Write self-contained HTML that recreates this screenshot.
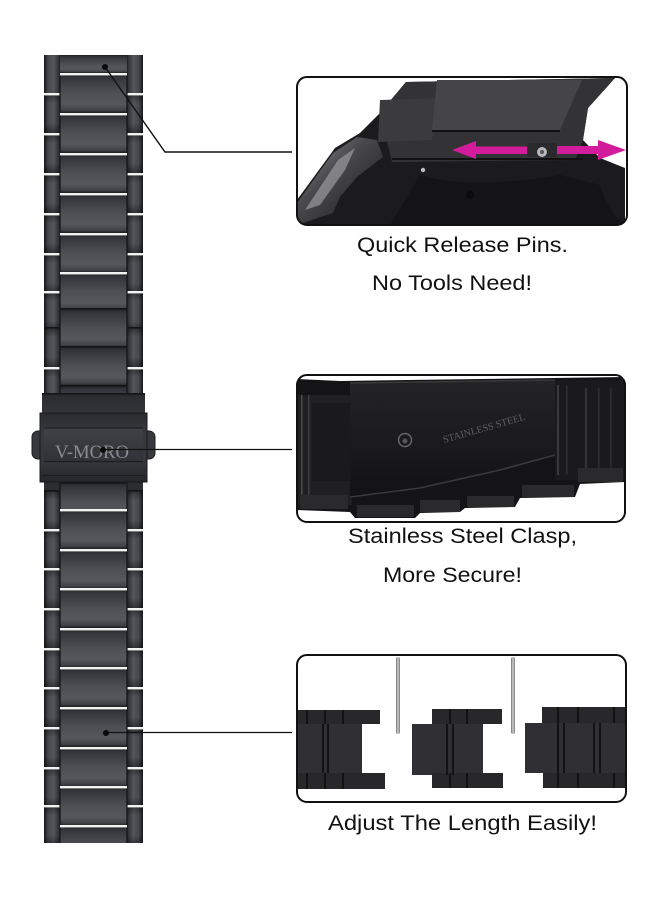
<!DOCTYPE html>
<html><head><meta charset="utf-8"><style>html,body{margin:0;padding:0;background:#fff}svg{display:block}</style></head>
<body>
<svg width="660" height="900" viewBox="0 0 660 900" xmlns="http://www.w3.org/2000/svg">
<defs>
<linearGradient id="cg" x1="0" y1="0" x2="0" y2="1">
 <stop offset="0" stop-color="#1f2024"/><stop offset="0.12" stop-color="#34353a"/>
 <stop offset="0.5" stop-color="#4e4f55"/><stop offset="0.78" stop-color="#56575d"/>
 <stop offset="0.93" stop-color="#404146"/><stop offset="1" stop-color="#1b1c1f"/>
</linearGradient>
<linearGradient id="sgL" x1="0" y1="0" x2="1" y2="0">
 <stop offset="0" stop-color="#17181b"/><stop offset="0.25" stop-color="#45464b"/>
 <stop offset="0.6" stop-color="#55565b"/><stop offset="0.9" stop-color="#34353a"/><stop offset="1" stop-color="#1c1d20"/>
</linearGradient>
<linearGradient id="sgR" x1="1" y1="0" x2="0" y2="0">
 <stop offset="0" stop-color="#17181b"/><stop offset="0.25" stop-color="#45464b"/>
 <stop offset="0.6" stop-color="#55565b"/><stop offset="0.9" stop-color="#34353a"/><stop offset="1" stop-color="#1c1d20"/>
</linearGradient>
<linearGradient id="vs" x1="0" y1="0" x2="0" y2="1">
 <stop offset="0" stop-color="#000" stop-opacity="0.45"/><stop offset="0.25" stop-color="#000" stop-opacity="0"/>
 <stop offset="0.75" stop-color="#000" stop-opacity="0"/><stop offset="1" stop-color="#000" stop-opacity="0.4"/>
</linearGradient>
<linearGradient id="clg" x1="0" y1="0" x2="0" y2="1">
 <stop offset="0" stop-color="#2a2b2f"/><stop offset="0.3" stop-color="#38393e"/>
 <stop offset="0.7" stop-color="#36373c"/><stop offset="1" stop-color="#25262a"/>
</linearGradient>
<linearGradient id="plg" x1="0" y1="0" x2="0" y2="1">
 <stop offset="0" stop-color="#404146"/><stop offset="1" stop-color="#313237"/>
</linearGradient>
<linearGradient id="pin" x1="0" y1="0" x2="1" y2="0">
 <stop offset="0" stop-color="#6e6e72"/><stop offset="0.5" stop-color="#d2d2d4"/><stop offset="1" stop-color="#747478"/>
</linearGradient>
<linearGradient id="crown" x1="0" y1="0" x2="1" y2="1">
 <stop offset="0" stop-color="#9a9a9e"/><stop offset="0.4" stop-color="#4a4a4e"/><stop offset="1" stop-color="#151517"/>
</linearGradient>
<linearGradient id="p2plate" x1="0" y1="0" x2="0" y2="1">
 <stop offset="0" stop-color="#242427"/><stop offset="1" stop-color="#121214"/>
</linearGradient>
<g id="cl"><rect x="60" y="0" width="67" height="40" fill="url(#cg)"/><rect x="59.4" y="0" width="1.3" height="40" fill="#18191c"/><rect x="126.3" y="0" width="1.3" height="40" fill="#18191c"/><rect x="60" y="0" width="67" height="2.4" fill="#f2f2f2"/></g>
<g id="cd"><rect x="60" y="0" width="67" height="40" fill="url(#cg)"/><rect x="59.4" y="0" width="1.3" height="40" fill="#18191c"/><rect x="126.3" y="0" width="1.3" height="40" fill="#18191c"/><rect x="60" y="0" width="67" height="1.6" fill="#141417"/></g>
<g id="sl">
 <rect x="44" y="0" width="16" height="40" fill="url(#sgL)"/><rect x="127" y="0" width="16" height="40" fill="url(#sgR)"/>
 <rect x="44" y="0" width="16" height="40" fill="url(#vs)"/><rect x="127" y="0" width="16" height="40" fill="url(#vs)"/>
 <rect x="44" y="0" width="16" height="2.4" fill="#f2f2f2"/><rect x="127" y="0" width="16" height="2.4" fill="#f2f2f2"/>
</g>
<g id="sd">
 <rect x="44" y="0" width="16" height="40" fill="url(#sgL)"/><rect x="127" y="0" width="16" height="40" fill="url(#sgR)"/>
 <rect x="44" y="0" width="16" height="40" fill="url(#vs)"/><rect x="127" y="0" width="16" height="40" fill="url(#vs)"/>
 <rect x="44" y="0" width="16" height="1.6" fill="#141417"/><rect x="127" y="0" width="16" height="1.6" fill="#141417"/>
</g>
<clipPath id="bandclip"><rect x="0" y="55" width="200" height="788"/></clipPath>
<clipPath id="p1c"><rect x="297" y="77" width="330" height="148" rx="10"/></clipPath>
<clipPath id="p2c"><rect x="297" y="375" width="328" height="147" rx="10"/></clipPath>
<clipPath id="p3c"><rect x="297" y="655" width="329" height="147" rx="10"/></clipPath>
</defs>

<rect width="660" height="900" fill="#fff"/>

<!-- BAND -->
<g clip-path="url(#bandclip)">
 <rect x="44" y="55" width="99" height="788" fill="#2c2d31"/>
 <rect x="44" y="55" width="16" height="38" fill="url(#sgL)"/>
 <rect x="127" y="55" width="16" height="38" fill="url(#sgR)"/>
 <rect x="60" y="55" width="67" height="18" fill="url(#cg)"/>
 <use href="#sl" y="93"/><use href="#sl" y="133"/><use href="#sl" y="173"/><use href="#sl" y="213"/><use href="#sl" y="253"/><use href="#sl" y="291"/>
 <use href="#sd" y="327"/><use href="#sl" y="367"/>
 <use href="#cl" y="73"/><use href="#cl" y="113"/><use href="#cl" y="153"/><use href="#cl" y="193"/><use href="#cl" y="233"/><use href="#cl" y="272"/>
 <use href="#cd" y="308"/><use href="#cd" y="346"/><use href="#cd" y="385"/>
 <use href="#sd" y="490"/>
 <use href="#sl" y="529"/><use href="#sl" y="568"/><use href="#sl" y="608"/><use href="#sl" y="648"/><use href="#sl" y="687"/><use href="#sl" y="727"/><use href="#sl" y="767"/><use href="#sl" y="805"/>
 <use href="#cd" y="482"/>
 <use href="#cl" y="509"/><use href="#cl" y="549"/><use href="#cl" y="588"/><use href="#cl" y="628"/><use href="#cl" y="667"/><use href="#cl" y="707"/><use href="#cl" y="747"/><use href="#cl" y="786"/><use href="#cl" y="825"/>
</g>

<!-- CLASP -->
<rect x="42" y="394" width="103" height="88" fill="url(#clg)"/>
<rect x="42" y="393" width="103" height="1.6" fill="#151518"/>
<rect x="32" y="431" width="13" height="28" rx="6" fill="#38393e" stroke="#1b1c1f" stroke-width="1"/>
<rect x="142" y="431" width="13" height="28" rx="6" fill="#38393e" stroke="#1b1c1f" stroke-width="1"/>
<rect x="40" y="413" width="107" height="69" fill="url(#clg)" stroke="#18191c" stroke-width="1"/>
<rect x="44" y="428" width="99" height="33" fill="url(#plg)"/>
<rect x="44" y="427.5" width="99" height="1.2" fill="#1c1d20"/>
<rect x="44" y="461" width="99" height="1.2" fill="#1c1d20"/>
<rect x="42" y="475" width="103" height="1" fill="#1c1d20"/>
<text x="55" y="458" font-family="Liberation Serif, serif" font-size="19" fill="#8b8c91" textLength="74" lengthAdjust="spacingAndGlyphs">V-MORO</text>

<!-- CONNECTORS -->
<polyline points="105,67 165,152 292,152" fill="none" stroke="#111" stroke-width="1.4"/>
<circle cx="105" cy="67" r="3" fill="#0a0a0a"/>
<line x1="103" y1="449.5" x2="292" y2="449.5" stroke="#111" stroke-width="1.3"/>
<circle cx="103" cy="450" r="3" fill="#0a0a0a"/>
<line x1="106" y1="732.5" x2="292" y2="732.5" stroke="#111" stroke-width="1.3"/>
<circle cx="106" cy="733" r="3" fill="#0a0a0a"/>

<!-- PANEL 1 -->
<g clip-path="url(#p1c)">
 <rect x="297" y="77" width="330" height="148" fill="#fff"/>
 <polygon points="406,82 615,78 588,108 583,140 600,158 625,168 625,225 297,225 297,200 335,148 360,133 380,113" fill="#1b1b1d"/>
 <polygon points="406,82 615,78 588,108 583,140 575,160 392,162 380,113" fill="#333336"/>
 <polygon points="380,100 437,98 432,140 378,142" fill="#3b3b3e"/>
 <polygon points="437,80 582,80 560,130 432,130" fill="#454548"/>
 <rect x="432" y="130" width="128" height="2" fill="#111"/>
 <rect x="392" y="158" width="190" height="2" fill="#111"/>
 <path d="M420 175 Q470 190 560 175 L600 185 Q610 215 625 225 L390 225 Z" fill="#141416"/>
 <circle cx="423" cy="170" r="2.2" fill="#bdbdbd"/>
 <circle cx="470" cy="195" r="4" fill="#0c0c0d"/>
 <polygon points="297,203 333,153 357,137 377,140 383,157 357,177 340,197 333,213 297,225" fill="url(#crown)"/>
 <polygon points="305,210 338,160 355,148 345,170 320,205" fill="#a9a9ad" opacity="0.6"/>
 <polygon points="452,150 476,141 476,146.5 527,146.5 527,154 476,154 476,159" fill="#d21c9b"/>
 <polygon points="557,146 598,146 598,140 626,150 598,160 598,154 557,154" fill="#d21c9b"/>
 <rect x="527" y="143" width="30" height="14" rx="3" fill="#2a2a2c"/>
 <circle cx="542" cy="152" r="5" fill="#b8b8ba"/>
 <circle cx="542" cy="152" r="2" fill="#555"/>
</g>
<rect x="297" y="77" width="330" height="148" rx="10" fill="none" stroke="#111" stroke-width="2"/>

<!-- PANEL 2 -->
<g clip-path="url(#p2c)">
 <rect x="297" y="375" width="328" height="147" fill="#fff"/>
 <polygon points="297,379 340,381 625,377 625,482 580,484 575,497 520,498 515,507 465,508 460,512 420,513 415,518 355,518 350,512 297,510" fill="#141416"/>
 <rect x="297" y="395" width="55" height="110" fill="#202023"/>
 <rect x="301" y="395" width="1.5" height="100" fill="#4a4a4e"/>
 <rect x="308" y="395" width="1.5" height="100" fill="#3e3e42"/>
 <rect x="312" y="403" width="38" height="78" fill="#1a1a1c"/>
 <polygon points="350,383 555,380 555,455 500,470 420,488 350,497" fill="url(#p2plate)"/>
 <polyline points="350,383 555,380" stroke="#3a3a3d" stroke-width="1.5" fill="none"/>
 <polyline points="350,497 420,488 500,470 555,455" stroke="#3a3a3d" stroke-width="1.5" fill="none"/>
 <rect x="555" y="380" width="70" height="100" fill="#1a1a1c"/>
 <rect x="557" y="385" width="2" height="90" fill="#3a3a3e"/>
 <rect x="566" y="385" width="1.5" height="90" fill="#2e2e32"/>
 <rect x="585" y="388" width="2" height="85" fill="#333337"/>
 <rect x="598" y="388" width="1.5" height="85" fill="#2e2e32"/>
 <rect x="610" y="388" width="1.5" height="85" fill="#2e2e32"/>
 <rect x="578" y="468" width="45" height="14" fill="#2a2a2d"/>
 <rect x="522" y="485" width="52" height="12" fill="#2a2a2d"/>
 <rect x="467" y="496" width="47" height="11" fill="#2a2a2d"/>
 <rect x="420" y="500" width="40" height="12" fill="#2a2a2d"/>
 <rect x="357" y="505" width="57" height="12" fill="#2a2a2d"/>
 <rect x="300" y="495" width="48" height="14" fill="#2a2a2d"/>
 <circle cx="405" cy="440" r="6.5" fill="none" stroke="#66666a" stroke-width="1.5"/>
 <circle cx="405" cy="441" r="2.5" fill="#55555a"/>
 <text transform="translate(444,443) rotate(-16)" font-family="Liberation Serif, serif" font-size="10" fill="#5f5f63" textLength="85" lengthAdjust="spacingAndGlyphs">STAINLESS STEEL</text>
</g>
<rect x="297" y="375" width="328" height="147" rx="10" fill="none" stroke="#111" stroke-width="2"/>

<!-- PANEL 3 -->
<g clip-path="url(#p3c)">
 <rect x="297" y="655" width="329" height="147" fill="#fff"/>
 <!-- left piece -->
 <rect x="297" y="710" width="83" height="14" fill="#28282b"/>
 <rect x="297" y="724" width="65" height="49" fill="#303034"/>
 <rect x="297" y="773" width="88" height="16" fill="#28282b"/>
 <rect x="306" y="710" width="2" height="14" fill="#121214"/><rect x="324" y="710" width="2" height="14" fill="#121214"/><rect x="342" y="710" width="2" height="14" fill="#121214"/>
 <rect x="306" y="773" width="2" height="16" fill="#121214"/><rect x="324" y="773" width="2" height="16" fill="#121214"/><rect x="342" y="773" width="2" height="16" fill="#121214"/>
 <rect x="322" y="724" width="2" height="49" fill="#121214"/><rect x="327" y="724" width="2" height="49" fill="#121214"/>
 <!-- middle piece -->
 <rect x="432" y="709" width="70" height="15" fill="#28282b"/>
 <rect x="412" y="724" width="71" height="51" fill="#303034"/>
 <rect x="432" y="773" width="71" height="15" fill="#28282b"/>
 <rect x="449" y="709" width="2" height="15" fill="#121214"/><rect x="466" y="709" width="2" height="15" fill="#121214"/>
 <rect x="449" y="773" width="2" height="15" fill="#121214"/><rect x="466" y="773" width="2" height="15" fill="#121214"/>
 <rect x="446" y="724" width="2" height="51" fill="#121214"/><rect x="452" y="724" width="2" height="51" fill="#121214"/>
 <!-- right piece -->
 <rect x="542" y="707" width="85" height="16" fill="#28282b"/>
 <rect x="525" y="723" width="102" height="50" fill="#303034"/>
 <rect x="543" y="773" width="84" height="15" fill="#28282b"/>
 <rect x="557" y="707" width="2" height="16" fill="#121214"/><rect x="577" y="707" width="2" height="16" fill="#121214"/><rect x="613" y="707" width="2" height="16" fill="#121214"/>
 <rect x="557" y="773" width="2" height="15" fill="#121214"/><rect x="577" y="773" width="2" height="15" fill="#121214"/><rect x="613" y="773" width="2" height="15" fill="#121214"/>
 <rect x="557" y="723" width="2" height="50" fill="#121214"/><rect x="563" y="723" width="2" height="50" fill="#121214"/>
 <rect x="593" y="723" width="2" height="50" fill="#121214"/><rect x="599" y="723" width="2" height="50" fill="#121214"/>
 <!-- pins -->
 <rect x="396" y="657" width="4" height="77" rx="2" fill="url(#pin)"/>
 <rect x="511" y="657" width="4" height="77" rx="2" fill="url(#pin)"/>
</g>
<rect x="297" y="655" width="329" height="147" rx="10" fill="none" stroke="#111" stroke-width="2"/>

<!-- TEXT -->
<g font-family="Liberation Sans, Arial, sans-serif" font-size="21" fill="#111">
 <text x="357" y="252" textLength="211" lengthAdjust="spacingAndGlyphs">Quick Release Pins.</text>
 <text x="372" y="290" textLength="160" lengthAdjust="spacingAndGlyphs">No Tools Need!</text>
 <text x="348" y="543" textLength="229" lengthAdjust="spacingAndGlyphs">Stainless Steel Clasp,</text>
 <text x="383" y="582" textLength="139" lengthAdjust="spacingAndGlyphs">More Secure!</text>
 <text x="328" y="830" textLength="269" lengthAdjust="spacingAndGlyphs">Adjust The Length Easily!</text>
</g>
</svg>
</body></html>
